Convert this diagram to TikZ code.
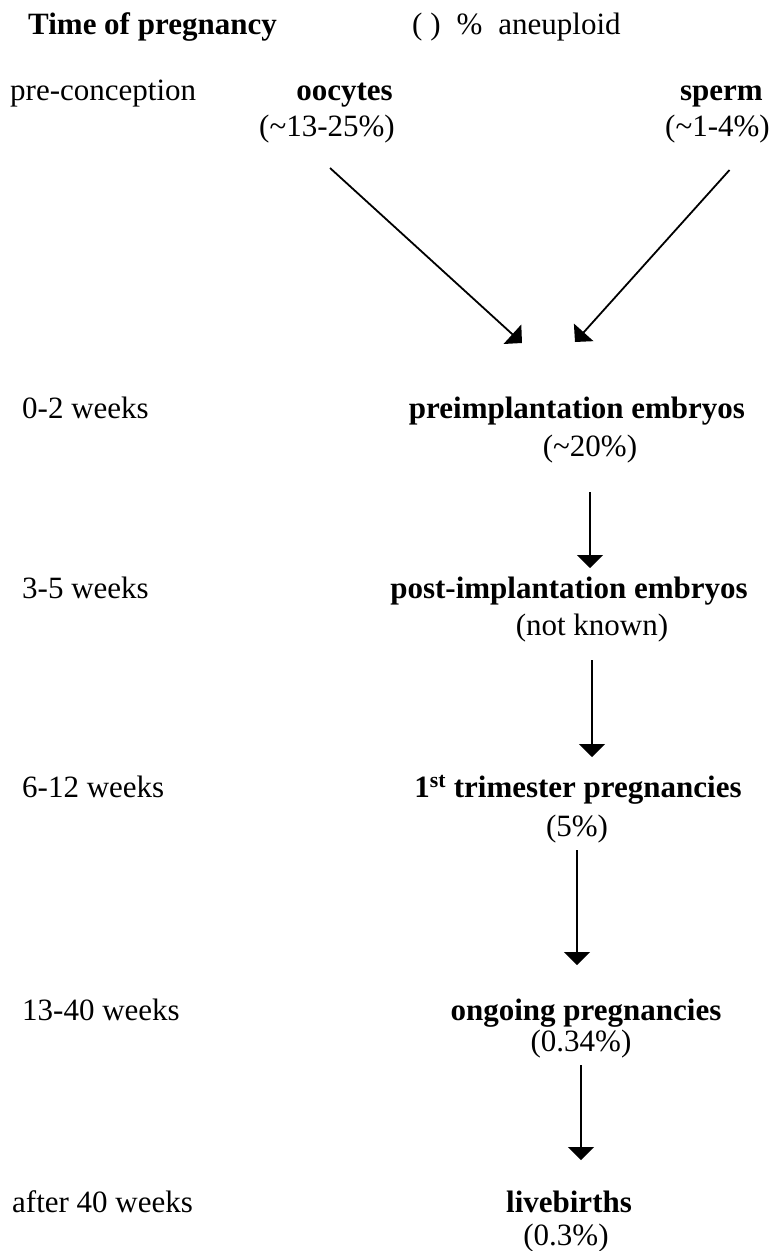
\documentclass[tikz,border=0pt]{standalone}
\usepackage{fontspec}
\setmainfont{Liberation Serif}
\usetikzlibrary{arrows.meta,positioning}
\tikzset{
  >={Triangle[width=26pt,length=13pt]},
  txt/.style={inner sep=0pt,font=\fontsize{31}{36}\selectfont},
  period/.style={txt,anchor=base west},
  stage/.style={txt,anchor=base,font=\fontsize{31}{36}\selectfont\bfseries},
  pct/.style={txt,anchor=base},
  arr/.style={->,line width=1.8pt},
}
\begin{document}
\begin{tikzpicture}[x=1pt,y=-1pt]
\useasboundingbox (0,0) rectangle (774,1251);
% headings
\node[period,font=\fontsize{31}{36}\selectfont\bfseries] (head) at (28,34) {Time of pregnancy};
\node[period] (key) at (412,34) {(\ )\hspace{16pt}\%\hspace{16pt}aneuploid};
% time column
\node[period] (t0) at (10,100) {pre-conception};
\node[period] (t1) at (22,418) {0-2 weeks};
\node[period] (t2) at (22,598) {3-5 weeks};
\node[period] (t3) at (22,797) {6-12 weeks};
\node[period] (t4) at (22,1020) {13-40 weeks};
\node[period] (t5) at (12,1212) {after 40 weeks};
% gametes
\node[stage,anchor=base east] (oo) at (393,100) {oocytes};
\node[pct,anchor=base east] (poo) at (395,136) {(\textasciitilde13-25\%)};
\node[stage,anchor=base east] (sp) at (763,100) {sperm};
\node[pct,anchor=base east] (psp) at (770,136) {(\textasciitilde1-4\%)};
% stages
\node[stage] (pre) at (577,418) {preimplantation embryos};
\node[pct] (ppre) at (590,456) {(\textasciitilde20\%)};
\node[stage] (post) at (569,598) {post-implantation embryos};
\node[pct] (ppost) at (592,635) {(not known)};
\node[stage] (tri) at (578,797) {1\textsuperscript{st} trimester pregnancies};
\node[pct] (ptri) at (577,836) {(5\%)};
\node[stage] (ongo) at (586,1020) {ongoing pregnancies};
\node[pct] (pongo) at (581,1051) {(0.34\%)};
\node[stage] (live) at (569,1212) {livebirths};
\node[pct] (plive) at (566,1245) {(0.3\%)};
% arrows
\draw[arr] ([shift={(3,32)}]poo.base) -- ([shift={(-55,-75)}]pre.base);
\draw[arr] ([shift={(12,34)}]psp.base) -- ([shift={(-2,-76)}]pre.base);
\draw[arr,shorten <=36pt,shorten >=30pt] (ppre.base) -- (ppre.base |- post.base);
\draw[arr,shorten <=25pt,shorten >=40pt] (ppost.base) -- (ppost.base |- tri.base);
\draw[arr,shorten <=14pt,shorten >=55pt] (ptri.base) -- (ptri.base |- ongo.base);
\draw[arr,shorten <=14pt,shorten >=52pt] (pongo.base) -- (pongo.base |- live.base);
\end{tikzpicture}
\end{document}
